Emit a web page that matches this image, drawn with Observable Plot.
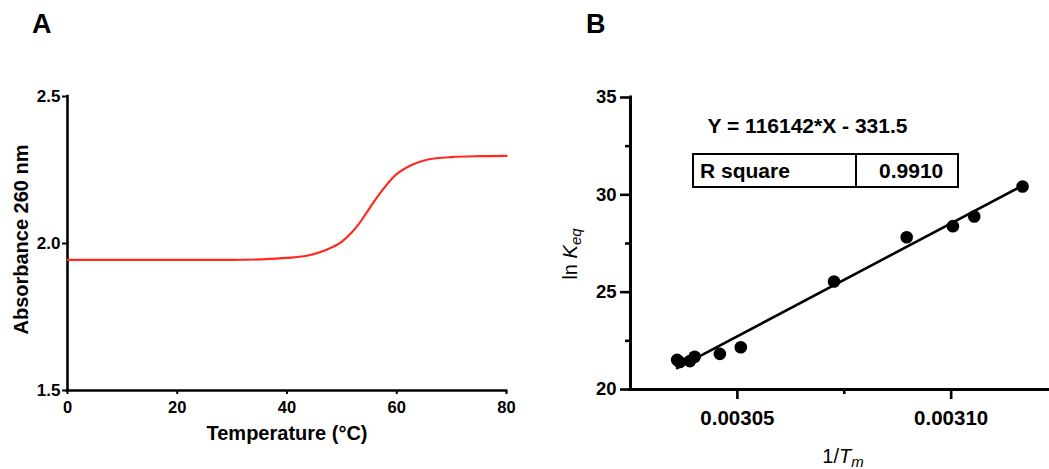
<!DOCTYPE html>
<html>
<head>
<meta charset="utf-8">
<script src="https://cdn.jsdelivr.net/npm/d3@7"></script>
<script src="https://cdn.jsdelivr.net/npm/@observablehq/plot@0.6"></script>
<style>
html, body { margin: 0; padding: 0; background: #fff; }
#wrap { position: relative; width: 1049px; height: 469px; overflow: hidden; font-family: 'Liberation Sans', Arial, sans-serif; color: #000; }
.abs { position: absolute; white-space: nowrap; line-height: 1; }
.panel { position: absolute; top: 0; }
</style>
</head>
<body>
<div id="wrap">
  <div id="pa" class="panel" style="left:0px"></div>
  <div id="pb" class="panel" style="left:525px"></div>
  <div class="abs" style="left:32px;top:11px;font-size:27px;font-weight:bold;">A</div>
  <div class="abs" style="left:586px;top:11px;font-size:27px;font-weight:bold;">B</div>
  <div class="abs" id="eq" style="left:807.5px;top:125px;transform:translate(-50%,-50%);font-size:21px;font-weight:bold;"></div>
  <div class="abs" id="rtable" style="left:692px;top:153px;width:267px;height:34.5px;box-sizing:border-box;border:2.6px solid #000;display:flex;font-size:21px;font-weight:bold;">
    <div id="rlabel" style="width:163.3px;box-sizing:border-box;border-right:2.6px solid #000;padding-left:6px;display:flex;align-items:center;"></div>
    <div id="rvalue" style="flex:1;display:flex;align-items:center;justify-content:center;padding-left:8px;"></div>
  </div>
  <div class="abs" style="left:570px;top:253.5px;transform:translate(-50%,-50%) rotate(-90deg);font-size:20px;">ln <i>K</i><span style="position:relative;top:4px;font-size:15px;font-style:italic;">eq</span></div>
  <div class="abs" style="left:843px;top:445.5px;transform:translateX(-50%);font-size:20px;">1/<i>T</i><span style="position:relative;top:4px;font-size:15px;font-style:italic;">m</span></div>
</div>
<script>
// ---------- Panel A data (melting curve) ----------
const temperature = [0, 10, 20, 30, 35, 40, 44, 47, 50, 53, 55, 57, 59.5, 62.5, 65.5, 70, 75, 80];
const absorbance  = [1.944, 1.944, 1.944, 1.944, 1.946, 1.951, 1.960, 1.977, 2.006, 2.064, 2.119, 2.172, 2.228, 2.265, 2.285, 2.294, 2.297, 2.298];
const tempTicks = [0, 20, 40, 60, 80];
const absTicks = [1.5, 2.0, 2.5];

// ---------- Panel B data (van 't Hoff plot) ----------
const invTm = [0.0030359, 0.0030365, 0.0030389, 0.0030400, 0.0030459, 0.0030508, 0.0030726, 0.0030896, 0.0031004, 0.0031054, 0.0031167];
const lnKeq = [21.52, 21.41, 21.46, 21.68, 21.83, 22.17, 25.55, 27.82, 28.39, 28.89, 30.43];
const fitSlope = 116142;
const fitIntercept = -331.5;
const rSquare = "0.9910";
const invTicks = [0.00305, 0.00310];
const invMinorTicks = [0.003075];
const lnTicks = [20, 25, 30, 35];
const lnMinorTicks = [22.5, 27.5, 32.5];

const font = "'Liberation Sans', Arial, sans-serif";
const fmtAbs = d3.format(".1f");
const fmtInv = d3.format(".5f");

// set tick label sizes after render, by matching their text
function sizeTexts(svg, labels, size) {
  const set = new Set(labels);
  svg.querySelectorAll("text").forEach(t => {
    if (set.has(t.textContent.trim())) {
      t.style.fontSize = size + "px";
      t.style.fontWeight = "bold";
    }
  });
}

// ---------- Panel A ----------
const curve = temperature.map((t, i) => ({t, a: absorbance[i]}));
const plotA = Plot.plot({
  width: 525, height: 469,
  marginLeft: 67, marginRight: 19, marginTop: 96, marginBottom: 79,
  style: {fontFamily: font, fontSize: "16px", fontWeight: "bold", color: "#000", background: "transparent"},
  x: {domain: [0, 80]},
  y: {domain: [1.5, 2.5]},
  marks: [
    Plot.axisX(tempTicks, {tickSize: 4, tickPadding: 7, strokeWidth: 2, label: null}),
    Plot.axisY(absTicks, {tickSize: 5, tickPadding: 2, strokeWidth: 2, tickFormat: fmtAbs, label: null}),
    Plot.ruleY([absTicks[0]], {strokeWidth: 2.6, strokeLinecap: "square"}),
    Plot.ruleX([tempTicks[0]], {strokeWidth: 2.6, strokeLinecap: "square"}),
    Plot.line(curve, {x: "t", y: "a", stroke: "#ff2a1f", strokeWidth: 2.2, curve: "monotone-x"}),
    Plot.text(["Temperature (°C)"], {text: d => d, frameAnchor: "bottom", dy: 43, lineAnchor: "middle", textAnchor: "middle", fontSize: 20, fontWeight: "bold"}),
    Plot.text(["Absorbance 260 nm"], {text: d => d, frameAnchor: "left", dx: -46, dy: -4, rotate: -90, lineAnchor: "middle", textAnchor: "middle", fontSize: 20, fontWeight: "bold"})
  ]
});
sizeTexts(plotA, tempTicks.map(String), 16.5);
sizeTexts(plotA, absTicks.map(fmtAbs), 17);
document.getElementById("pa").appendChild(plotA);

// ---------- Panel B ----------
const pts = invTm.map((x, i) => ({x, y: lnKeq[i]}));
const xExt = d3.extent(invTm);
const fit = xExt.map(x => ({x, y: fitSlope * x + fitIntercept}));
const plotB = Plot.plot({
  width: 524, height: 469,
  marginLeft: 105, marginRight: 0, marginTop: 97, marginBottom: 80,
  style: {fontFamily: font, fontSize: "18px", fontWeight: "bold", color: "#000", background: "transparent", overflow: "visible"},
  x: {domain: [0.003025, 0.003123]},
  y: {domain: [20, 35]},
  marks: [
    Plot.axisX(invTicks, {tickSize: 10, tickPadding: 11, strokeWidth: 2.6, tickFormat: fmtInv, label: null}),
    Plot.axisX(invMinorTicks, {tickSize: 5, strokeWidth: 2.6, tickFormat: () => "", label: null}),
    Plot.axisY(lnTicks, {tickSize: 10, tickPadding: 4, strokeWidth: 2.6, label: null}),
    Plot.axisY(lnMinorTicks, {tickSize: 5, strokeWidth: 2.6, tickFormat: () => "", label: null}),
    Plot.ruleY([lnTicks[0]], {strokeWidth: 3, strokeLinecap: "square"}),
    Plot.ruleX([0.003025], {strokeWidth: 3, strokeLinecap: "square"}),
    Plot.line(fit, {x: "x", y: "y", stroke: "#000", strokeWidth: 2.6}),
    Plot.dot(pts, {x: "x", y: "y", r: 6.3, fill: "#000", stroke: "none"})
  ]
});
sizeTexts(plotB, invTicks.map(fmtInv), 20.5);
sizeTexts(plotB, lnTicks.map(String), 18.5);
document.getElementById("pb").appendChild(plotB);

// Annotation text (regression equation and R square box)
document.getElementById("eq").textContent = `Y = ${fitSlope}*X - ${Math.abs(fitIntercept)}`;
document.getElementById("rlabel").textContent = "R square";
document.getElementById("rvalue").textContent = rSquare;
</script>
</body>
</html>
